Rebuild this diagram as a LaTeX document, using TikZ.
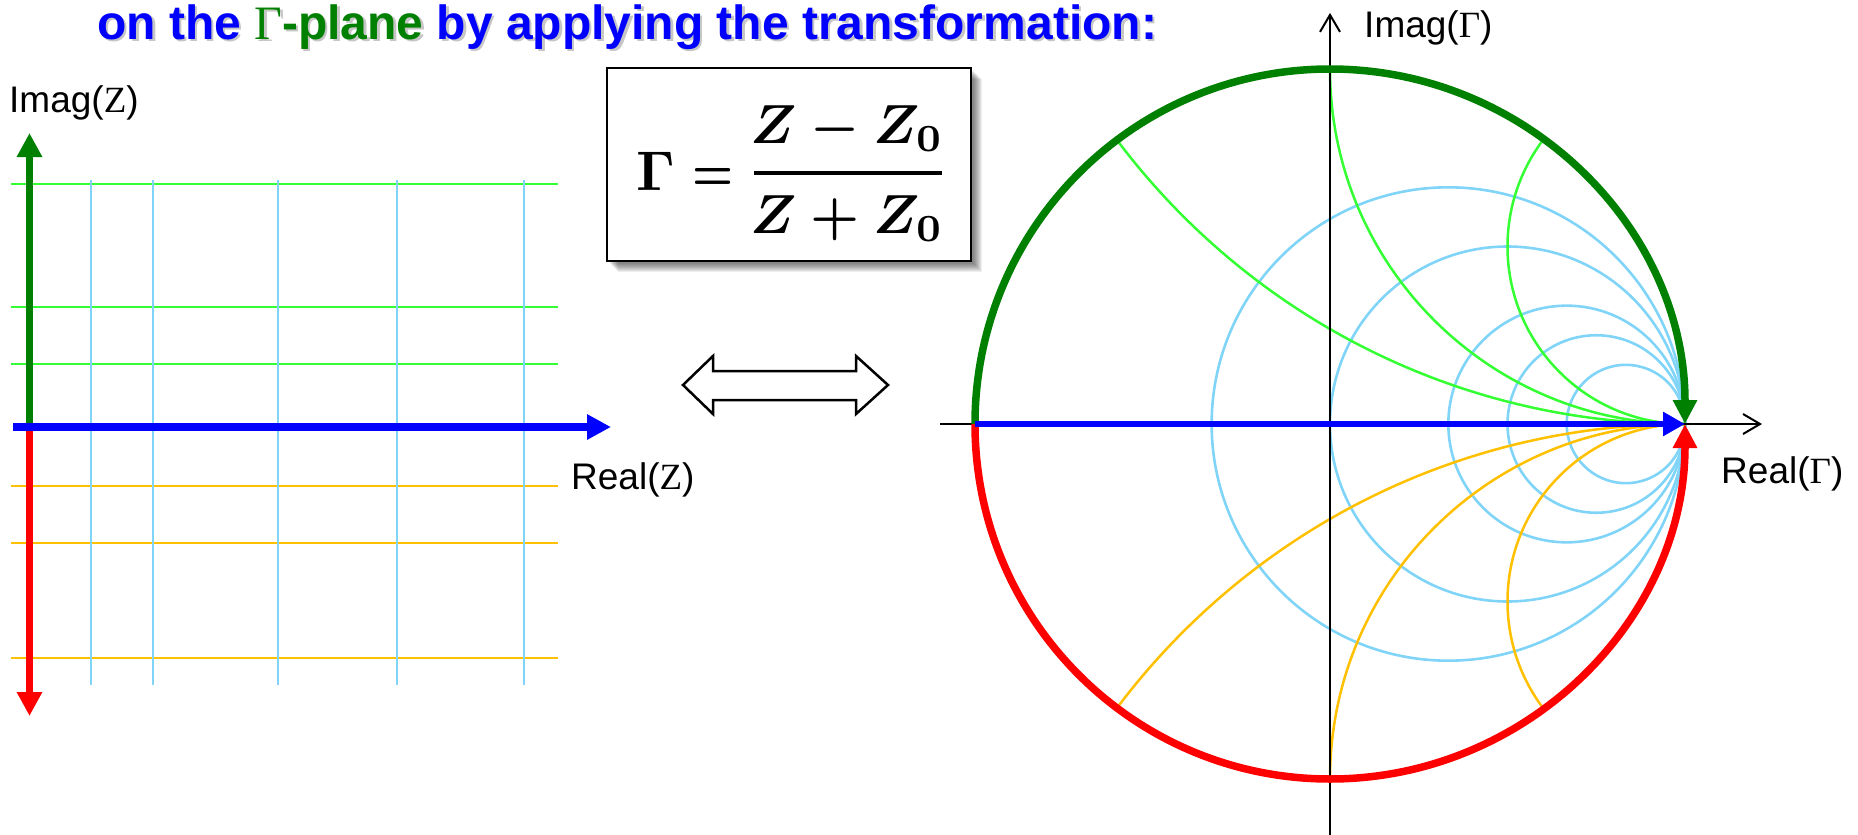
\documentclass[tikz,border=0pt]{standalone}
\usepackage{graphicx}
\usepackage[no-math]{fontspec}
\newfontfamily\arial{Liberation Sans}
\newfontfamily\tnr{Liberation Serif}
\newfontfamily\titlefont{Liberation Sans Bold}
\newfontfamily\titleserif{Liberation Serif}
\usetikzlibrary{arrows.meta}
\definecolor{dkgreen}{RGB}{0,128,0}
\definecolor{ltgreen}{RGB}{51,255,51}
\definecolor{ltblue}{RGB}{128,212,248}
\definecolor{gold}{RGB}{255,192,0}
\definecolor{tblue}{RGB}{0,0,255}
\newsavebox\gambox
\newsavebox\eqbox
\newsavebox\numbox
\newsavebox\denbox
\begin{document}
\sbox\gambox{\boldmath$\Gamma$}%
\sbox\eqbox{\boldmath$=$}%
\sbox\numbox{\boldmath$Z-Z_0$}%
\sbox\denbox{\boldmath$Z+Z_0$}%
\begin{tikzpicture}[x=1pt,y=-1pt,
  lbl/.style={anchor=base west, inner sep=0pt, font=\arial\fontsize{37}{40}\selectfont},
  gridg/.style={ltgreen, line width=2.8pt},
  gridb/.style={ltblue, line width=2.8pt},
  grido/.style={gold, line width=2.8pt},
  bigarrow/.style={line width=7pt, -{Triangle[length=24pt,width=24pt]}},
  axisline/.style={black, line width=2pt, -{Straight Barb[length=17pt,width=20pt]}},
  smithr/.style={ltblue, line width=2.6pt},
  smithg/.style={ltgreen, line width=2.5pt},
  smitho/.style={gold, line width=2.5pt},
  formtxt/.style={inner sep=0pt},
]
\useasboundingbox (0,0) rectangle (1858,835);

% ---------- title ----------
\node[anchor=base west, inner sep=0pt, opacity=0.45, text=gray] (titleshadow) at (99.5,41.5)
  {\titlefont\fontsize{48}{52}\selectfont on the {\titleserif Γ}-plane by applying the transformation:};
\node[anchor=base west, inner sep=0pt, text=tblue] (title) at (97,39)
  {\titlefont\fontsize{48}{52}\selectfont on the {\color{dkgreen}{\titleserif Γ}-plane} by applying the transformation:};

% ---------- left panel (Z-plane) ----------
\foreach \yy in {184,307,364} \draw[gridg] (11,\yy) -- (558,\yy);
\foreach \yy in {486,543,658} \draw[grido] (11,\yy) -- (558,\yy);
\foreach \xx in {91,153,278,397,524} \draw[gridb] (\xx,180) -- (\xx,685);
\coordinate (zO) at (29.5,427);
\coordinate (zTop) at (29.5,133);
\coordinate (zBot) at (29.5,716);
\coordinate (zLeft) at (13,427);
\coordinate (zRight) at (611,427);
\draw[bigarrow, dkgreen] (zO) -- (zTop);
\draw[bigarrow, red] (zO) -- (zBot);
\draw[bigarrow, tblue, line width=7.5pt] (zLeft) -- (zRight);
\node[lbl] (imagz) at (9,112) {Imag({\tnr Z})};
\node[lbl] (realz) at (571,489) {Real({\tnr Z})};

% ---------- formula box ----------
\foreach \s in {3,4,5,6,7,8,9,10,11}
  \fill[black, opacity=0.065, shift={(\s,\s)}] (607,68) rectangle (971,261);
\draw[line width=2pt, fill=white] (607,68) rectangle (971,261);
\node[formtxt, anchor=base west] (fgam) at (636,190) {\scalebox{5.6}{\usebox\gambox}};
\node[formtxt, anchor=base west] (feq) at (692,190) {\scalebox{4.6}[5.6]{\usebox\eqbox}};
\node[formtxt, anchor=base] (fnum) at (847,143) {\scalebox{5.5}{\usebox\numbox}};
\node[formtxt, anchor=base] (fden) at (847,233) {\scalebox{5.5}{\usebox\denbox}};
\coordinate (barL) at (754,173);
\coordinate (barR) at (942,173);
\draw[line width=4.5pt] (barL) -- (barR);

% ---------- double arrow ----------
\draw[line width=2.5pt, fill=white, line join=miter] (683,385) -- (713,356) -- (713,371) -- (856,371) -- (856,356)
  -- (888,385) -- (856,414) -- (856,400) -- (713,400) -- (713,414) -- cycle;

% ---------- Smith chart ----------
\begin{scope}[shift={(1330pt,-424pt)}, x=355pt, y=355pt]
  \foreach \r in {0.5,1,2,3,5}
    \draw[smithr] ({\r/(1+\r)},0) circle ({1/(1+\r)});
  \begin{scope}
    \clip (0,0) circle (1);
    \foreach \xx in {0.5,1,2} {
      \draw[smithg] (1,{1/\xx}) circle ({1/\xx});
      \draw[smitho] (1,{-1/\xx}) circle ({1/\xx});
    }
  \end{scope}
  \coordinate (gW) at (-1.0986,0);
  \coordinate (gE) at (1.2169,0);
  \coordinate (gS) at (0,-1.158);
  \coordinate (gN) at (0,1.158);
  \coordinate (gL) at (-1,0);
  \coordinate (gR) at (1,0);
  \draw[axisline] (gW) -- (gE);
  \draw[axisline] (gS) -- (gN);
  \draw[dkgreen, line width=7.5pt, -{Triangle[length=24pt,width=23pt]}] (gL) arc[start angle=180, end angle=0, radius=1];
  \draw[red, line width=7.5pt, -{Triangle[length=24pt,width=23pt]}] (gL) arc[start angle=180, end angle=360, radius=1];
  \draw[tblue, line width=5.5pt, -{Triangle[length=22pt,width=23pt]}] (gL) -- (gR);
\end{scope}
\node[lbl] (imagg) at (1364,37) {Imag({\tnr Γ})};
\node[lbl] (realg) at (1721,483) {Real({\tnr Γ})};
\end{tikzpicture}
\end{document}
